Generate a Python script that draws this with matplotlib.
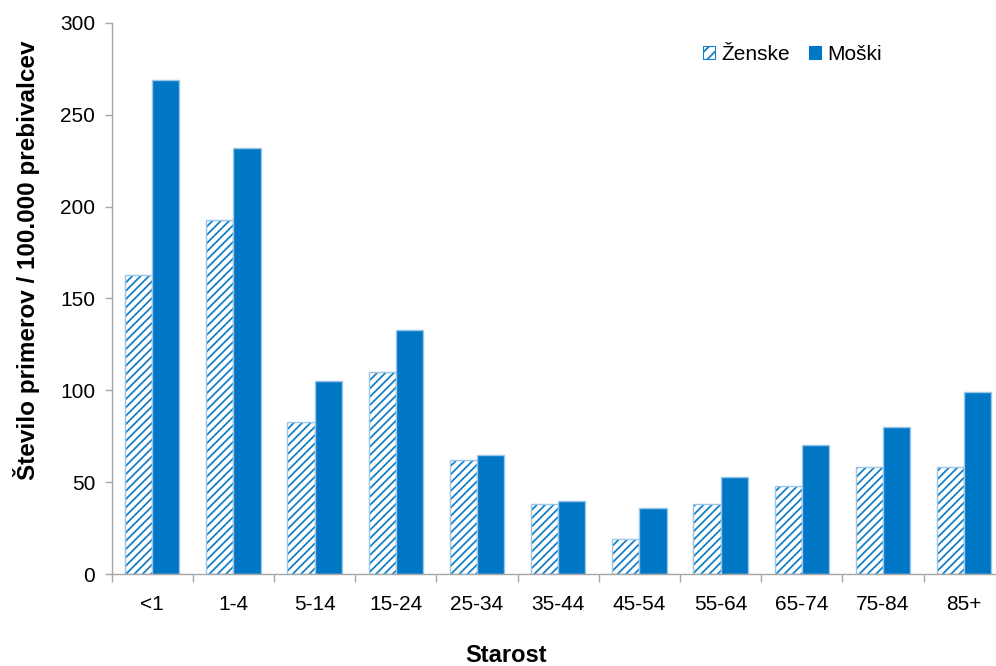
import matplotlib
matplotlib.use("Agg")
import matplotlib.pyplot as plt
from matplotlib.patches import Patch
import numpy as np

categories = ["<1", "1-4", "5-14", "15-24", "25-34", "35-44", "45-54", "55-64", "65-74", "75-84", "85+"]
zenske = [163, 193, 83, 110, 62, 38, 19, 38, 48, 58, 58]
moski = [269, 232, 105, 133, 65, 40, 36, 53, 70, 80, 99]

plt.rcParams['font.family'] = ['Liberation Sans', 'DejaVu Sans']
plt.rcParams['hatch.linewidth'] = 1.3

W, H = 996, 666
fig = plt.figure(figsize=(W/100, H/100), dpi=100)
ax = fig.add_axes([111.7/W, 1 - 574/H, 893/W, 551/H])

x = np.arange(len(categories))
bw = 0.335
blue = '#0077C4'
hatch_blue = '#1580C8'
edge = '#9CC6E8'
ax.bar(x - bw/2, zenske, bw, facecolor='white', edgecolor=hatch_blue, hatch='////', linewidth=0)
ax.bar(x - bw/2, zenske, bw, fill=False, edgecolor=edge, linewidth=1.0)
ax.bar(x + bw/2, moski, bw, facecolor=blue, edgecolor=edge, linewidth=1.0)

ax.set_xlim(-0.5, 10.5)
ax.set_ylim(0, 300)
ax.set_yticks([0, 50, 100, 150, 200, 250, 300])
ax.set_xticks(x)
ax.set_xticklabels(categories)
ax.set_xticks(np.arange(-0.5, 11, 1), minor=True)
ax.tick_params(axis='x', which='major', length=0, pad=15, labelsize=15)
ax.tick_params(axis='x', which='minor', length=6, color='#A6A6A6', width=1)
ax.tick_params(axis='y', which='major', length=5, color='#A6A6A6', width=1, labelsize=15, pad=7)

for s in ['top', 'right']:
    ax.spines[s].set_visible(False)
for s in ['left', 'bottom']:
    ax.spines[s].set_color('#A6A6A6')
    ax.spines[s].set_linewidth(1)

fig.text(27/W, 1 - 260/H, 'Število primerov / 100.000 prebivalcev', rotation=90,
         ha='center', va='center', fontsize=17.5, fontweight='bold')
fig.text(506/W, 1 - 656/H, 'Starost', ha='center', va='center', fontsize=17, fontweight='bold')

handles = [Patch(facecolor='white', edgecolor=hatch_blue, hatch='///', linewidth=0.8, label='Ženske'),
           Patch(facecolor=blue, edgecolor=blue, linewidth=0.8, label='Moški')]
leg = ax.legend(handles=handles, loc='center left', bbox_to_anchor=(703/W, 1 - 54/H),
                bbox_transform=fig.transFigure,
                ncol=2, frameon=False, fontsize=15, handlelength=0.58, handleheight=0.58,
                handletextpad=0.3, columnspacing=0.9, borderaxespad=0, borderpad=0)

fig.savefig('out.png', dpi=100)
